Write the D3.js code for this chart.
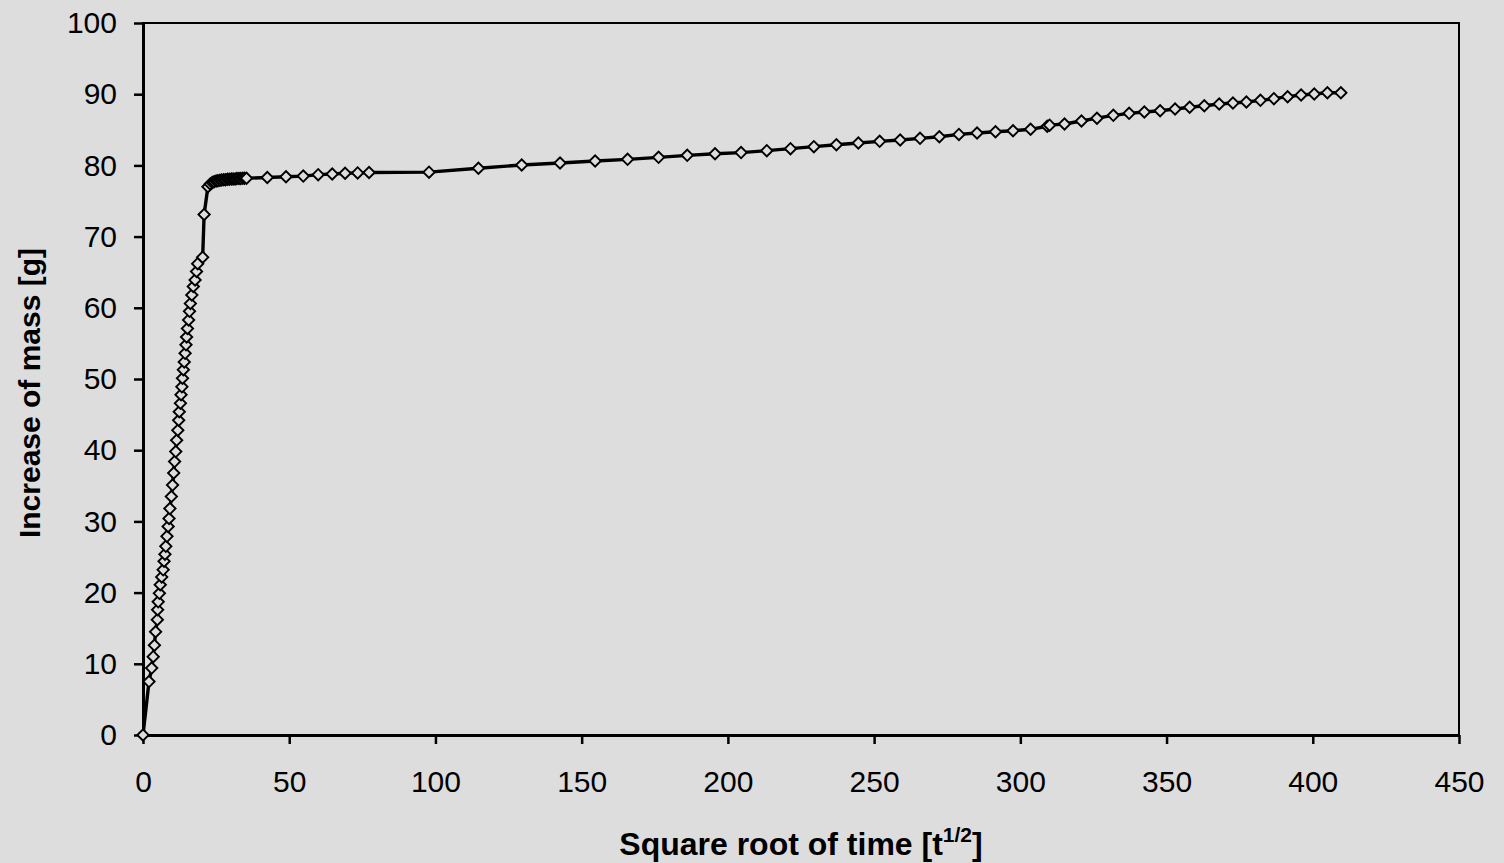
<!DOCTYPE html>
<html>
<head>
<meta charset="utf-8">
<script src="https://cdn.jsdelivr.net/npm/d3@7"></script>
<style>
    body { margin: 0; background: #dddddd; }
    svg { display: block; font-family: "Liberation Sans", Arial, sans-serif; }
</style>
</head>
<body>
<script>
const sqrtTime = [0, 2.05, 2.97, 3.5, 3.9, 4.3, 4.9, 5.0, 5.2, 5.6, 5.9, 6.4, 6.9,
    7.2, 7.5, 7.8, 8.2, 8.6, 8.9, 9.2, 9.7, 10.1, 10.5, 10.8, 11.2, 11.5, 11.9,
    12.2, 12.4, 12.8, 13.0, 13.3, 13.5, 13.8, 14.1, 14.4, 14.7, 14.9, 15.2, 15.6, 15.9,
    16.2, 16.7, 17.2, 17.8, 18.3, 18.7, 20.4, 20.9, 22.2,
    23.0, 23.7, 24.3, 25.0, 25.6, 26.3, 26.9, 27.6, 28.2, 28.9, 29.5, 30.2, 30.8,
    31.5, 32.1, 32.8, 33.4, 34.1, 34.7, 35.4,
    42.5, 48.9, 54.8, 59.9, 64.7, 69.1, 73.4, 77.3, 97.8, 114.7, 129.5, 142.6,
    154.6, 165.7, 176.3, 186.1, 195.6, 204.5, 213.3, 221.4, 229.4, 237.1, 244.6,
    251.9, 258.9, 265.7, 272.3, 279.0, 285.2, 291.5, 297.5, 303.5, 309.2, 310.0,
    315.1, 320.9, 326.2, 331.8, 337.2, 342.4, 347.8, 352.9, 357.9, 362.9, 368.0,
    372.7, 377.3, 382.1, 386.7, 391.4, 396.0, 400.5, 405.0, 409.6];
const massIncrease = [0, 7.5, 9.4, 11.0, 12.6, 14.5, 16.2, 17.6, 18.7, 19.9, 21.1, 22.2, 23.2,
    24.4, 25.4, 26.5, 27.9, 29.3, 30.4, 31.8, 33.5, 35.1, 36.8, 38.4, 39.8, 41.4, 42.8,
    44.2, 45.4, 46.6, 47.8, 48.9, 50.1, 51.3, 52.4, 53.6, 54.8, 55.9, 57.1, 58.3, 59.5,
    60.6, 61.8, 63.0, 63.9, 65.1, 66.2, 67.1, 73.1, 77.0,
    77.4, 77.6, 77.7, 77.8, 77.85, 77.9, 77.95, 78.0, 78.0, 78.05, 78.05, 78.1, 78.1,
    78.1, 78.15, 78.15, 78.15, 78.2, 78.2, 78.2,
    78.3, 78.4, 78.5, 78.7, 78.8, 78.9, 78.95, 79.0, 79.05, 79.6, 80.06, 80.34,
    80.62, 80.85, 81.13, 81.41, 81.64, 81.8, 82.07, 82.35, 82.63, 82.9, 83.15,
    83.38, 83.57, 83.8, 84.03, 84.35, 84.55, 84.73, 84.87, 85.07, 85.5, 85.65,
    85.81, 86.24, 86.63, 87.03, 87.31, 87.5, 87.68, 87.92, 88.16, 88.38, 88.62,
    88.76, 88.9, 89.14, 89.37, 89.65, 89.89, 90.03, 90.21, 90.21];
const xTicks = [0, 50, 100, 150, 200, 250, 300, 350, 400, 450];
const yTicks = [0, 10, 20, 30, 40, 50, 60, 70, 80, 90, 100];

const width = 1504, height = 863;
const plotLeft = 143, plotRight = 1459, plotTop = 23, plotBottom = 735;
const bg = "#dddddd";

const dataset = sqrtTime.map((d, i) => ({x: d, y: massIncrease[i]}));

const svg = d3.select("body")
    .append("svg")
    .attr("width", width)
    .attr("height", height);

svg.append("rect")
    .attr("width", width)
    .attr("height", height)
    .attr("fill", bg);

const xScale = d3.scaleLinear().domain([0, 450]).range([plotLeft, plotRight]);
const yScale = d3.scaleLinear().domain([0, 100]).range([plotBottom, plotTop]);

// plot frame
svg.append("rect")
    .attr("x", plotLeft)
    .attr("y", plotTop)
    .attr("width", plotRight - plotLeft)
    .attr("height", plotBottom - plotTop)
    .attr("fill", "none")
    .attr("stroke", "black")
    .attr("stroke-width", 2);

const xAxis = d3.axisBottom(xScale)
    .tickValues(xTicks)
    .tickSize(9)
    .tickPadding(27)
    .tickSizeOuter(0);

const yAxis = d3.axisLeft(yScale)
    .tickValues(yTicks)
    .tickSize(9)
    .tickPadding(17)
    .tickSizeOuter(0);

const gx = svg.append("g")
    .attr("transform", `translate(0, ${plotBottom})`)
    .call(xAxis);

const gy = svg.append("g")
    .attr("transform", `translate(${plotLeft}, 0)`)
    .call(yAxis);

[gx, gy].forEach(g => {
    g.selectAll("path.domain").attr("stroke", "black").attr("stroke-width", 3);
    g.selectAll(".tick line").attr("stroke", "black").attr("stroke-width", 2.5);
    g.selectAll(".tick text")
        .attr("fill", "black")
        .style("font-family", "'Liberation Sans', Arial, sans-serif")
        .style("font-size", "30px");
});

const line = d3.line()
    .x(d => xScale(d.x))
    .y(d => yScale(d.y));

svg.append("path")
    .datum(dataset)
    .attr("d", line)
    .attr("fill", "none")
    .attr("stroke", "black")
    .attr("stroke-width", 3.4)
    .attr("stroke-linejoin", "round");

const diamond = d3.symbol(d3.symbolSquare, 64);

svg.selectAll(".marker")
    .data(dataset)
    .enter()
    .append("path")
    .attr("class", "marker")
    .attr("d", diamond)
    .attr("transform", d => `translate(${xScale(d.x)}, ${yScale(d.y)}) rotate(45)`)
    .attr("fill", bg)
    .attr("stroke", "black")
    .attr("stroke-width", 1.9);

// axis titles
const xTitle = svg.append("text")
    .attr("x", (plotLeft + plotRight) / 2)
    .attr("y", 855)
    .attr("text-anchor", "middle")
    .style("font-size", "32px")
    .style("font-weight", "bold")
    .text("Square root of time [t");
xTitle.append("tspan")
    .attr("dy", -13)
    .style("font-size", "21px")
    .text("1/2");
xTitle.append("tspan")
    .attr("dy", 13)
    .text("]");

svg.append("text")
    .attr("transform", `translate(40, 393) rotate(-90)`)
    .attr("text-anchor", "middle")
    .style("font-size", "30px")
    .style("font-weight", "bold")
    .text("Increase of mass [g]");
</script>
</body>
</html>
